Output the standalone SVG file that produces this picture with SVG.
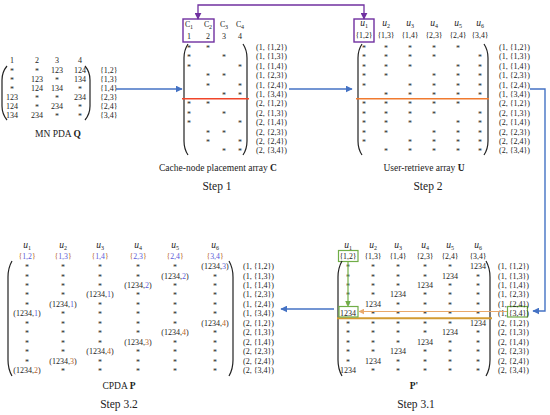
<svg xmlns="http://www.w3.org/2000/svg" width="550" height="415" viewBox="0 0 550 415">
<defs>
<style>
text{font-family:"Liberation Serif","Times New Roman",serif;fill:#222}
.c text{text-anchor:middle;font-size:8px}
.l text{font-size:8px}
.h{text-anchor:middle;font-size:9.5px;font-style:italic}
.s{text-anchor:middle;font-size:7.8px}
.cap{text-anchor:middle;font-size:9.5px}
.step{text-anchor:middle;font-size:11.5px}
.par{fill:none;stroke:#222;stroke-width:1.2}
.bl{fill:none;stroke:#4472c4;stroke-width:1.4}
.b{fill:#5a5ad8}
.o{fill:#b8622a}
</style>
<marker id="ab" viewBox="0 0 10 10" refX="9" refY="5" markerUnits="userSpaceOnUse" markerWidth="7" markerHeight="7" orient="auto-start-reverse"><path d="M0,0 L10,5 L0,10 z" fill="#4472c4"/></marker>
<marker id="ap" viewBox="0 0 10 10" refX="9" refY="5" markerUnits="userSpaceOnUse" markerWidth="7" markerHeight="7" orient="auto-start-reverse"><path d="M0,0 L10,5 L0,10 z" fill="#7030a0"/></marker>
<marker id="ag" viewBox="0 0 10 10" refX="9" refY="5" markerUnits="userSpaceOnUse" markerWidth="6" markerHeight="6" orient="auto"><path d="M0,0 L10,5 L0,10 z" fill="#70ad47"/></marker>
<marker id="at" viewBox="0 0 10 10" refX="9" refY="5" markerUnits="userSpaceOnUse" markerWidth="6" markerHeight="6" orient="auto"><path d="M0,0 L10,5 L0,10 z" fill="#e9a86a"/></marker>
</defs>

<!-- MN PDA Q -->
<g id="q">
<path class="par" d="M7,66 Q2,72 2,80 V106 Q2,114 7,120"/>
<path class="par" d="M85,66 Q90,72 90,80 V106 Q90,114 85,120"/>
<g class="c">
<text x="12" y="63">1</text><text x="37" y="63">2</text><text x="57" y="63">3</text><text x="80" y="63">4</text>
<text x="12" y="74">*</text><text x="37" y="74">*</text><text x="57" y="73">123</text><text x="80" y="73">124</text>
<text x="12" y="83">*</text><text x="37" y="82">123</text><text x="57" y="83">*</text><text x="80" y="82">134</text>
<text x="12" y="92">*</text><text x="37" y="91">124</text><text x="57" y="91">134</text><text x="80" y="92">*</text>
<text x="12" y="100">123</text><text x="37" y="101">*</text><text x="57" y="101">*</text><text x="80" y="100">234</text>
<text x="12" y="109">124</text><text x="37" y="110">*</text><text x="57" y="109">234</text><text x="80" y="110">*</text>
<text x="12" y="118">134</text><text x="37" y="118">234</text><text x="57" y="119">*</text><text x="80" y="119">*</text>
</g>
<g class="l">
<text x="100" y="73">{1,2}</text><text x="100" y="82">{1,3}</text><text x="100" y="91">{1,4}</text>
<text x="100" y="100">{2,3}</text><text x="100" y="109">{2,4}</text><text x="100" y="118">{3,4}</text>
</g>
<text class="cap" x="58" y="137">MN PDA <tspan font-weight="bold">Q</tspan></text>
</g>

<!-- Step 1 -->
<g id="step1">
<rect x="183" y="19" width="31" height="23" fill="none" stroke="#7030a0" stroke-width="1.4"/>
<text class="s" x="189" y="27" font-size="9">C<tspan font-size="6" dy="1.5">1</tspan></text>
<text class="s" x="208" y="27" font-size="9">C<tspan font-size="6" dy="1.5">2</tspan></text>
<text class="s" x="224" y="27" font-size="9">C<tspan font-size="6" dy="1.5">3</tspan></text>
<text class="s" x="240" y="27" font-size="9">C<tspan font-size="6" dy="1.5">4</tspan></text>
<g class="c"><text x="189" y="39">1</text><text x="208" y="39">2</text><text x="224" y="39">3</text><text x="240" y="39">4</text></g>
<path class="par" d="M188,44 Q184,50 184,58 V141 Q184,149 188,155"/>
<path class="par" d="M243,44 Q247,50 247,58 V141 Q247,149 243,155"/>
<line x1="182" y1="98.7" x2="249" y2="98.7" stroke="#f0452a" stroke-width="1.5"/>
<g class="c">
<text x="189" y="51">*</text><text x="208" y="51">*</text>
<text x="189" y="60.4">*</text><text x="224" y="60.4">*</text>
<text x="189" y="69.8">*</text><text x="240" y="69.8">*</text>
<text x="208" y="79.2">*</text><text x="224" y="79.2">*</text>
<text x="208" y="88.6">*</text><text x="240" y="88.6">*</text>
<text x="224" y="98">*</text><text x="240" y="98">*</text>
<text x="189" y="107.4">*</text><text x="208" y="107.4">*</text>
<text x="189" y="116.8">*</text><text x="224" y="116.8">*</text>
<text x="189" y="126.2">*</text><text x="240" y="126.2">*</text>
<text x="208" y="135.6">*</text><text x="224" y="135.6">*</text>
<text x="208" y="145">*</text><text x="240" y="145">*</text>
<text x="224" y="154.4">*</text><text x="240" y="154.4">*</text>
</g>
<g class="l">
<text x="256" y="50">(1, {1,2})</text><text x="256" y="59.4">(1, {1,3})</text><text x="256" y="68.8">(1, {1,4})</text>
<text x="256" y="78.2">(1, {2,3})</text><text x="256" y="87.6">(1, {2,4})</text><text x="256" y="97">(1, {3,4})</text>
<text x="256" y="106.4">(2, {1,2})</text><text x="256" y="115.8">(2, {1,3})</text><text x="256" y="125.2">(2, {1,4})</text>
<text x="256" y="134.6">(2, {2,3})</text><text x="256" y="144">(2, {2,4})</text><text x="256" y="153.4">(2, {3,4})</text>
</g>
<text class="cap" x="218" y="171">Cache-node placement array <tspan font-weight="bold">C</tspan></text>
<text class="step" x="217" y="190">Step 1</text>
</g>

<!-- Step 2 -->
<g id="step2">
<rect x="354" y="19" width="20" height="23" fill="none" stroke="#7030a0" stroke-width="1.4"/>
<text class="h" x="364" y="26">u<tspan font-size="6" dy="1.5" font-style="normal">1</tspan></text>
<text class="h" x="386" y="26">u<tspan font-size="6" dy="1.5" font-style="normal">2</tspan></text>
<text class="h" x="410" y="26">u<tspan font-size="6" dy="1.5" font-style="normal">3</tspan></text>
<text class="h" x="434" y="26">u<tspan font-size="6" dy="1.5" font-style="normal">4</tspan></text>
<text class="h" x="458" y="26">u<tspan font-size="6" dy="1.5" font-style="normal">5</tspan></text>
<text class="h" x="480" y="26">u<tspan font-size="6" dy="1.5" font-style="normal">6</tspan></text>
<text class="s" x="364" y="38">{1,2}</text><text class="s" x="386" y="38">{1,3}</text><text class="s" x="410" y="38">{1,4}</text>
<text class="s" x="434" y="38">{2,3}</text><text class="s" x="458" y="38">{2,4}</text><text class="s" x="480" y="38">{3,4}</text>
<path class="par" d="M362,44 Q358,50 358,58 V141 Q358,149 362,155"/>
<path class="par" d="M484,44 Q488,50 488,58 V141 Q488,149 484,155"/>
<line x1="356" y1="98.7" x2="489" y2="98.7" stroke="#f07a30" stroke-width="1.5"/>
<g class="c">
<text x="364" y="51">*</text><text x="386" y="51">*</text><text x="410" y="51">*</text><text x="434" y="51">*</text><text x="458" y="51">*</text>
<text x="364" y="60.4">*</text><text x="386" y="60.4">*</text><text x="410" y="60.4">*</text><text x="434" y="60.4">*</text><text x="480" y="60.4">*</text>
<text x="364" y="69.8">*</text><text x="386" y="69.8">*</text><text x="410" y="69.8">*</text><text x="458" y="69.8">*</text><text x="480" y="69.8">*</text>
<text x="364" y="79.2">*</text><text x="386" y="79.2">*</text><text x="434" y="79.2">*</text><text x="458" y="79.2">*</text><text x="480" y="79.2">*</text>
<text x="364" y="88.6">*</text><text x="410" y="88.6">*</text><text x="434" y="88.6">*</text><text x="458" y="88.6">*</text><text x="480" y="88.6">*</text>
<text x="386" y="98">*</text><text x="410" y="98">*</text><text x="434" y="98">*</text><text x="458" y="98">*</text><text x="480" y="98">*</text>
<text x="364" y="107.4">*</text><text x="386" y="107.4">*</text><text x="410" y="107.4">*</text><text x="434" y="107.4">*</text><text x="458" y="107.4">*</text>
<text x="364" y="116.8">*</text><text x="386" y="116.8">*</text><text x="410" y="116.8">*</text><text x="434" y="116.8">*</text><text x="480" y="116.8">*</text>
<text x="364" y="126.2">*</text><text x="386" y="126.2">*</text><text x="410" y="126.2">*</text><text x="458" y="126.2">*</text><text x="480" y="126.2">*</text>
<text x="364" y="135.6">*</text><text x="386" y="135.6">*</text><text x="434" y="135.6">*</text><text x="458" y="135.6">*</text><text x="480" y="135.6">*</text>
<text x="364" y="145">*</text><text x="410" y="145">*</text><text x="434" y="145">*</text><text x="458" y="145">*</text><text x="480" y="145">*</text>
<text x="386" y="154.4">*</text><text x="410" y="154.4">*</text><text x="434" y="154.4">*</text><text x="458" y="154.4">*</text><text x="480" y="154.4">*</text>
</g>
<g class="l">
<text x="499" y="50">(1, {1,2})</text><text x="499" y="59.4">(1, {1,3})</text><text x="499" y="68.8">(1, {1,4})</text>
<text x="499" y="78.2">(1, {2,3})</text><text x="499" y="87.6">(1, {2,4})</text><text x="499" y="97">(1, {3,4})</text>
<text x="499" y="106.4">(2, {1,2})</text><text x="499" y="115.8">(2, {1,3})</text><text x="499" y="125.2">(2, {1,4})</text>
<text x="499" y="134.6">(2, {2,3})</text><text x="499" y="144">(2, {2,4})</text><text x="499" y="153.4">(2, {3,4})</text>
</g>
<text class="cap" x="424" y="171">User-retrieve array <tspan font-weight="bold">U</tspan></text>
<text class="step" x="428" y="190">Step 2</text>
</g>

<!-- Step 3.2 CPDA P -->
<g id="step32">
<text class="h" x="27" y="248">u<tspan font-size="6" dy="1.5" font-style="normal">1</tspan></text>
<text class="h" x="63" y="248">u<tspan font-size="6" dy="1.5" font-style="normal">2</tspan></text>
<text class="h" x="100" y="248">u<tspan font-size="6" dy="1.5" font-style="normal">3</tspan></text>
<text class="h" x="138" y="248">u<tspan font-size="6" dy="1.5" font-style="normal">4</tspan></text>
<text class="h" x="175" y="248">u<tspan font-size="6" dy="1.5" font-style="normal">5</tspan></text>
<text class="h" x="215" y="248">u<tspan font-size="6" dy="1.5" font-style="normal">6</tspan></text>
<text class="s" x="27" y="259"><tspan class="o">{</tspan><tspan class="b">1,2</tspan><tspan class="o">}</tspan></text>
<text class="s" x="63" y="259"><tspan class="o">{</tspan><tspan class="b">1,3</tspan><tspan class="o">}</tspan></text>
<text class="s" x="100" y="259"><tspan class="o">{</tspan><tspan class="b">1,4</tspan><tspan class="o">}</tspan></text>
<text class="s" x="138" y="259"><tspan class="o">{</tspan><tspan class="b">2,3</tspan><tspan class="o">}</tspan></text>
<text class="s" x="175" y="259"><tspan class="o">{</tspan><tspan class="b">2,4</tspan><tspan class="o">}</tspan></text>
<text class="s" x="215" y="259"><tspan class="o">{</tspan><tspan class="b">3,4</tspan><tspan class="o">}</tspan></text>
<path class="par" d="M12,261 Q8,268 8,277 V360 Q8,369 12,376"/>
<path class="par" d="M229,261 Q233,268 233,277 V360 Q233,369 229,376"/>
<g class="c">
<text x="27" y="270">*</text><text x="63" y="270">*</text><text x="100" y="270">*</text><text x="138" y="270">*</text><text x="175" y="270">*</text><text x="215" y="269">(1234,<tspan class="b">3</tspan>)</text>
<text x="27" y="279.5">*</text><text x="63" y="279.5">*</text><text x="100" y="279.5">*</text><text x="138" y="279.5">*</text><text x="175" y="278.5">(1234,<tspan class="b">2</tspan>)</text><text x="215" y="279.5">*</text>
<text x="27" y="289">*</text><text x="63" y="289">*</text><text x="100" y="289">*</text><text x="138" y="288">(1234,<tspan class="b">2</tspan>)</text><text x="175" y="289">*</text><text x="215" y="289">*</text>
<text x="27" y="298.4">*</text><text x="63" y="298.4">*</text><text x="100" y="297.4">(1234,<tspan class="b">1</tspan>)</text><text x="138" y="298.4">*</text><text x="175" y="298.4">*</text><text x="215" y="298.4">*</text>
<text x="27" y="307.8">*</text><text x="63" y="306.8">(1234,<tspan class="b">1</tspan>)</text><text x="100" y="307.8">*</text><text x="138" y="307.8">*</text><text x="175" y="307.8">*</text><text x="215" y="307.8">*</text>
<text x="27" y="316.3">(1234,<tspan class="b">1</tspan>)</text><text x="63" y="317.3">*</text><text x="100" y="317.3">*</text><text x="138" y="317.3">*</text><text x="175" y="317.3">*</text><text x="215" y="317.3">*</text>
<text x="27" y="326.7">*</text><text x="63" y="326.7">*</text><text x="100" y="326.7">*</text><text x="138" y="326.7">*</text><text x="175" y="326.7">*</text><text x="215" y="325.7">(1234,<tspan class="o">4</tspan>)</text>
<text x="27" y="336.2">*</text><text x="63" y="336.2">*</text><text x="100" y="336.2">*</text><text x="138" y="336.2">*</text><text x="175" y="335.2">(1234,<tspan class="o">4</tspan>)</text><text x="215" y="336.2">*</text>
<text x="27" y="345.6">*</text><text x="63" y="345.6">*</text><text x="100" y="345.6">*</text><text x="138" y="344.6">(1234,<tspan class="o">3</tspan>)</text><text x="175" y="345.6">*</text><text x="215" y="345.6">*</text>
<text x="27" y="355">*</text><text x="63" y="355">*</text><text x="100" y="354">(1234,<tspan class="o">4</tspan>)</text><text x="138" y="355">*</text><text x="175" y="355">*</text><text x="215" y="355">*</text>
<text x="27" y="364.5">*</text><text x="63" y="363.5">(1234,<tspan class="o">3</tspan>)</text><text x="100" y="364.5">*</text><text x="138" y="364.5">*</text><text x="175" y="364.5">*</text><text x="215" y="364.5">*</text>
<text x="27" y="373">(1234,<tspan class="o">2</tspan>)</text><text x="63" y="374">*</text><text x="100" y="374">*</text><text x="138" y="374">*</text><text x="175" y="374">*</text><text x="215" y="374">*</text>
</g>
<g class="l">
<text x="243" y="269">(1, {1,2})</text><text x="243" y="278.5">(1, {1,3})</text><text x="243" y="288">(1, {1,4})</text>
<text x="243" y="297.4">(1, {2,3})</text><text x="243" y="306.8">(1, {2,4})</text><text x="243" y="316.3">(1, {3,4})</text>
<text x="243" y="325.7">(2, {1,2})</text><text x="243" y="335.2">(2, {1,3})</text><text x="243" y="344.6">(2, {1,4})</text>
<text x="243" y="354">(2, {2,3})</text><text x="243" y="363.5">(2, {2,4})</text><text x="243" y="373">(2, {3,4})</text>
</g>
<text class="cap" x="119" y="389">CPDA <tspan font-weight="bold">P</tspan></text>
<text class="step" x="119" y="408">Step 3.2</text>
</g>

<!-- Step 3.1 P' -->
<g id="step31">
<text class="h" x="348" y="248">u<tspan font-size="6" dy="1.5" font-style="normal">1</tspan></text>
<text class="h" x="373" y="248">u<tspan font-size="6" dy="1.5" font-style="normal">2</tspan></text>
<text class="h" x="398" y="248">u<tspan font-size="6" dy="1.5" font-style="normal">3</tspan></text>
<text class="h" x="425" y="248">u<tspan font-size="6" dy="1.5" font-style="normal">4</tspan></text>
<text class="h" x="450" y="248">u<tspan font-size="6" dy="1.5" font-style="normal">5</tspan></text>
<text class="h" x="478" y="248">u<tspan font-size="6" dy="1.5" font-style="normal">6</tspan></text>
<text class="s" x="348" y="259">{1,2}</text><text class="s" x="373" y="259">{1,3}</text><text class="s" x="398" y="259">{1,4}</text>
<text class="s" x="425" y="259">{2,3}</text><text class="s" x="450" y="259">{2,4}</text><text class="s" x="478" y="259">{3,4}</text>
<rect x="338.5" y="250.5" width="19.5" height="11" fill="none" stroke="#70ad47" stroke-width="1.2"/>
<path class="par" d="M342,261 Q338,268 338,277 V360 Q338,369 342,376"/>
<path class="par" d="M486,261 Q490,268 490,277 V360 Q490,369 486,376"/>
<line x1="337" y1="318.3" x2="492" y2="318.3" stroke="#d39b32" stroke-width="2"/>
<rect x="339" y="306.5" width="19" height="10.5" fill="none" stroke="#70ad47" stroke-width="1.2"/>
<rect x="507.5" y="306.5" width="20" height="10.5" fill="none" stroke="#70ad47" stroke-width="1.2"/>
<g class="c">
<text x="348" y="270">*</text><text x="373" y="270">*</text><text x="398" y="270">*</text><text x="425" y="270">*</text><text x="450" y="270">*</text><text x="478" y="269">1234</text>
<text x="348" y="279.5">*</text><text x="373" y="279.5">*</text><text x="398" y="279.5">*</text><text x="425" y="279.5">*</text><text x="450" y="278.5">1234</text><text x="478" y="279.5">*</text>
<text x="348" y="289">*</text><text x="373" y="289">*</text><text x="398" y="289">*</text><text x="425" y="288">1234</text><text x="450" y="289">*</text><text x="478" y="289">*</text>
<text x="348" y="298.4">*</text><text x="373" y="298.4">*</text><text x="398" y="297.4">1234</text><text x="425" y="298.4">*</text><text x="450" y="298.4">*</text><text x="478" y="298.4">*</text>
<text x="348" y="307.8">*</text><text x="373" y="306.8">1234</text><text x="398" y="307.8">*</text><text x="425" y="307.8">*</text><text x="450" y="307.8">*</text><text x="478" y="307.8">*</text>
<text x="348" y="316">1234</text><text x="373" y="317.3">*</text><text x="398" y="317.3">*</text><text x="425" y="317.3">*</text><text x="450" y="317.3">*</text><text x="478" y="317.3">*</text>
<text x="348" y="326.7">*</text><text x="373" y="326.7">*</text><text x="398" y="326.7">*</text><text x="425" y="326.7">*</text><text x="450" y="326.7">*</text><text x="478" y="325.7">1234</text>
<text x="348" y="336.2">*</text><text x="373" y="336.2">*</text><text x="398" y="336.2">*</text><text x="425" y="336.2">*</text><text x="450" y="335.2">1234</text><text x="478" y="336.2">*</text>
<text x="348" y="345.6">*</text><text x="373" y="345.6">*</text><text x="398" y="345.6">*</text><text x="425" y="344.6">1234</text><text x="450" y="345.6">*</text><text x="478" y="345.6">*</text>
<text x="348" y="355">*</text><text x="373" y="355">*</text><text x="398" y="354">1234</text><text x="425" y="355">*</text><text x="450" y="355">*</text><text x="478" y="355">*</text>
<text x="348" y="364.5">*</text><text x="373" y="363.5">1234</text><text x="398" y="364.5">*</text><text x="425" y="364.5">*</text><text x="450" y="364.5">*</text><text x="478" y="364.5">*</text>
<text x="348" y="373">1234</text><text x="373" y="374">*</text><text x="398" y="374">*</text><text x="425" y="374">*</text><text x="450" y="374">*</text><text x="478" y="374">*</text>
</g>
<g class="l">
<text x="498" y="269">(1, {1,2})</text><text x="498" y="278.5">(1, {1,3})</text><text x="498" y="288">(1, {1,4})</text>
<text x="498" y="297.4">(1, {2,3})</text><text x="498" y="306.8">(1, {2,4})</text><text x="498" y="316">(1, {3,4})</text>
<text x="498" y="325.7">(2, {1,2})</text><text x="498" y="335.2">(2, {1,3})</text><text x="498" y="344.6">(2, {1,4})</text>
<text x="498" y="354">(2, {2,3})</text><text x="498" y="363.5">(2, {2,4})</text><text x="498" y="373">(2, {3,4})</text>
</g>
<text class="cap" x="414" y="389" font-weight="bold">P'</text>
<text class="step" x="416" y="408">Step 3.1</text>
</g>

<!-- connectors -->
<g id="connectors">
<path class="bl" d="M116,89 H182" marker-end="url(#ab)"/>
<path class="bl" d="M289,89 H352" marker-end="url(#ab)"/>
<path class="bl" d="M530,89 H545 V311 H533" marker-end="url(#ab)"/>
<path class="bl" d="M334,309 H281" marker-end="url(#ab)"/>
<path d="M364,19 V5 H198 V19" fill="none" stroke="#7030a0" stroke-width="1.3" marker-start="url(#ap)" marker-end="url(#ap)"/>
<path d="M348,261.5 V306" fill="none" stroke="#70ad47" stroke-width="1.2" marker-end="url(#ag)"/>
<path d="M507,311.5 H359" fill="none" stroke="#e9a86a" stroke-width="1.2" marker-end="url(#at)"/>
</g>
</svg>
